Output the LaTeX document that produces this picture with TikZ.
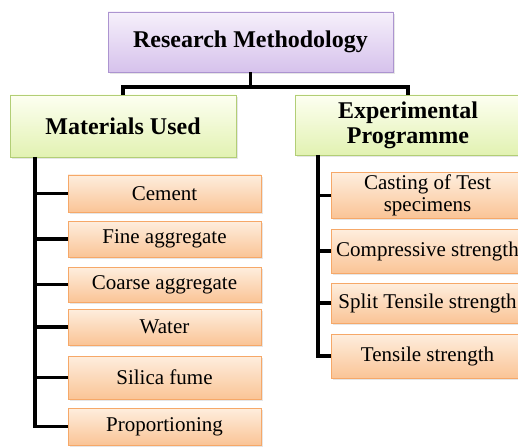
\documentclass[tikz,border=0pt]{standalone}
\usepackage{fontspec}
\setmainfont{Liberation Serif}
\usepackage{xcolor}
\usepackage{tikz}
\definecolor{lavtop}{RGB}{246,240,251}
\definecolor{lavbot}{RGB}{214,194,236}
\definecolor{lavline}{RGB}{172,148,208}
\definecolor{limtop}{RGB}{253,255,241}
\definecolor{limbot}{RGB}{226,242,178}
\definecolor{limline}{RGB}{178,206,118}
\definecolor{orgtop}{RGB}{254,238,222}
\definecolor{orgbot}{RGB}{250,196,150}
\definecolor{orgline}{RGB}{246,168,104}
\tikzset{>=latex,
    boxbase/.style={draw, line width=0.9pt, inner sep=2pt, align=center,
      drop shadow={opacity=0.2, shadow xshift=1.5pt, shadow yshift=-2pt}},
    headbox/.style={boxbase, draw=lavline, top color=lavtop, bottom color=lavbot,
      font=\fontsize{24}{25}\selectfont\bfseries},
    groupbox/.style={boxbase, draw=limline, top color=limtop, bottom color=limbot,
      minimum width=226, font=\fontsize{24}{25}\selectfont\bfseries},
    item/.style={boxbase, draw=orgline, top color=orgtop, bottom color=orgbot,
      minimum width=193, font=\fontsize{21}{22}\selectfont},
    link/.style={line width=3.2pt, black}}
\usetikzlibrary{calc,shadows}

\begin{document}
\begin{tikzpicture}[x=1pt, y=-1pt]
    \useasboundingbox (0,0) rectangle (518,446);
    \node[headbox, minimum width=285, minimum height=60] (top) at (250.5,42) {Research Methodology};
    \node[groupbox, minimum height=62] (mat) at (123,126) {Materials Used};
    \node[groupbox, minimum height=60] (exp) at (408,125) {Experimental\\Programme};
    \coordinate (hub) at (250.5,87);
    \draw[link] (top.south) -- (hub);
    \draw[link] (mat.north) |- (hub) -| (exp.north);
    % left branch
    \coordinate (lspine) at (35,157);
    \foreach \i/\y/\h/\txt in {1/193.5/37/Cement, 2/239/36/Fine aggregate,
        3/284.5/35/Coarse aggregate, 4/327/36/Water,
        5/377.5/43/Silica fume, 6/426.5/37/Proportioning} {
      \node[item, minimum height=\h] (m\i) at (164.5,\y) {\txt};
      \draw[link] (lspine |- m\i.west) -- (m\i.west);
    }
    \draw[link] (lspine) |- (m6.west);
    % right branch
    \coordinate (rspine) at (318,155);
    \foreach \i/\y/\h/\txt in {1/195.5/45/{Casting of Test\\specimens},
        2/251/44/Compressive strength, 3/303/40/Split Tensile strength,
        4/356/44/Tensile strength} {
      \node[item, minimum height=\h] (e\i) at (427.5,\y) {\txt};
      \draw[link] (rspine |- e\i.west) -- (e\i.west);
    }
    \draw[link] (rspine) |- (e4.west);
  \end{tikzpicture}
\end{document}
